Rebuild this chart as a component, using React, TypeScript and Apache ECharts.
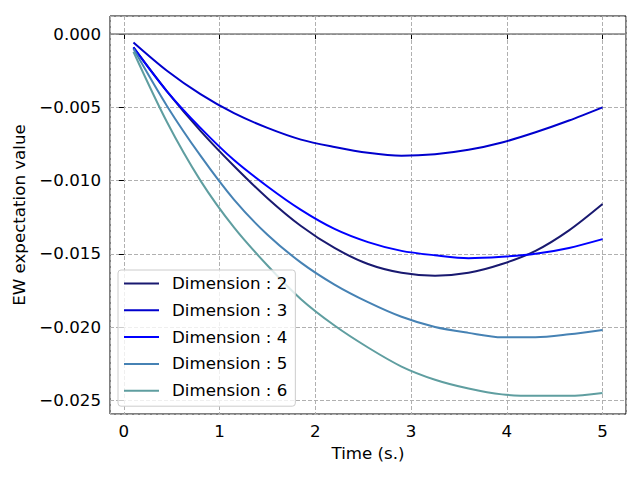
import React, { useEffect, useRef } from "react";
import * as echarts from "echarts";

const times = [0.1, 0.45, 0.8, 1.15, 1.5, 1.85, 2.2, 2.55, 2.9, 3.25, 3.6, 3.95, 4.3, 4.65, 5.0];

const dim2 = [-0.0009, -0.0039, -0.0066, -0.0090, -0.0112, -0.0131, -0.0146, -0.0157, -0.0163, -0.0165, -0.0163, -0.0157, -0.0148, -0.0134, -0.0116];
const dim3 = [-0.00057, -0.0025, -0.0041, -0.0054, -0.0064, -0.0072, -0.0077, -0.0081, -0.0083, -0.0082, -0.0079, -0.0074, -0.0067, -0.0059, -0.0050];
const dim4 = [-0.0009, -0.0039, -0.0064, -0.0086, -0.0104, -0.0120, -0.0133, -0.0142, -0.0148, -0.0151, -0.0153, -0.0152, -0.0150, -0.0146, -0.0140];
const dim5 = [-0.0010, -0.0049, -0.0083, -0.0113, -0.0137, -0.0156, -0.0171, -0.0183, -0.0193, -0.0200, -0.0204, -0.0207, -0.0207, -0.0205, -0.0202];
const dim6 = [-0.0012, -0.0060, -0.0100, -0.0132, -0.0158, -0.0181, -0.0199, -0.0214, -0.0227, -0.0236, -0.0242, -0.0246, -0.0247, -0.0247, -0.0245];

const seriesNames = ["Dimension : 2", "Dimension : 3", "Dimension : 4", "Dimension : 5", "Dimension : 6"];
const seriesValues = [dim2, dim3, dim4, dim5, dim6];
const seriesColors = ["#191970", "#0000CD", "#0000FF", "#4682B4", "#5F9EA0"];

const xTicks = [0, 1, 2, 3, 4, 5];
const zeroLine = 0;

const FONT = "DejaVu Sans";
const FS = 16.67;

export default function App() {
  const ref = useRef<HTMLDivElement>(null);
  useEffect(() => {
    document.body.style.margin = "0";
    const chart = echarts.init(ref.current!, undefined, { renderer: "svg" });
    const series: any[] = seriesValues.map((vals, i) => ({
      name: seriesNames[i],
      type: "line",
      data: times.map((t, j) => [t, vals[j]]),
      smooth: 0.3,
      showSymbol: false,
      symbol: "none",
      lineStyle: { color: seriesColors[i], width: 2 },
      itemStyle: { color: seriesColors[i] },
      z: 3,
    }));
    series.push({
      name: "zero",
      type: "line",
      data: [],
      markLine: {
        silent: true,
        symbol: "none",
        label: { show: false },
        lineStyle: { color: "#808080", width: 1.5, type: "solid" },
        data: [{ yAxis: zeroLine }],
      },
      z: 2,
    });
    chart.setOption({
      animation: false,
      textStyle: { fontFamily: FONT },
      grid: {
        left: 110,
        right: 14,
        top: 16,
        bottom: 66,
        show: true,
        borderColor: "#000",
        borderWidth: 1,
        backgroundColor: "transparent",
      },
      xAxis: {
        type: "value",
        min: -0.145,
        max: 5.245,
        name: "Time (s.)",
        nameLocation: "middle",
        nameGap: 31,
        nameTextStyle: { fontFamily: FONT, fontSize: FS, color: "#000" },
        axisLine: { show: false },
        axisTick: { show: true, length: 5, lineStyle: { color: "#000" } },
        axisLabel: {
          fontFamily: FONT,
          fontSize: FS,
          color: "#000",
          margin: 9,
          showMinLabel: false,
          showMaxLabel: false,
          formatter: (v: number) => {
            const r = Math.round(v);
            return xTicks.includes(r) && Math.abs(v - r) < 1e-6 ? String(r) : "";
          },
        },
        splitLine: { show: true, lineStyle: { color: "#b0b0b0", width: 1, type: [4, 2] } },
      },
      yAxis: {
        type: "value",
        min: -0.02594,
        max: 0.00124,
        name: "EW expectation value",
        nameLocation: "middle",
        nameGap: 80,
        nameRotate: 90,
        nameTextStyle: { fontFamily: FONT, fontSize: FS, color: "#000" },
        axisLine: { show: false },
        axisTick: { show: true, length: 5, lineStyle: { color: "#000" } },
        axisLabel: {
          fontFamily: FONT,
          fontSize: FS,
          color: "#000",
          margin: 9,
          showMinLabel: false,
          showMaxLabel: false,
          formatter: (v: number) => {
            const k = Math.round(v / 0.005);
            if (Math.abs(v - k * 0.005) > 1e-9) return "";
            if (k === 0) return "0.000";
            return (k < 0 ? "\u2212" : "") + Math.abs(k * 0.005).toFixed(3);
          },
        },
        splitLine: { show: true, lineStyle: { color: "#b0b0b0", width: 1, type: [4, 2] } },
      },
      legend: {
        data: seriesNames,
        orient: "vertical",
        left: 118,
        top: 270,
        padding: [5, 8, 7, 6],
        itemGap: 9.8,
        itemWidth: 35,
        itemHeight: 2,
        icon: "rect",
        borderColor: "#cccccc",
        borderWidth: 1,
        borderRadius: 3,
        backgroundColor: "rgba(255,255,255,0.8)",
        textStyle: {
          fontFamily: FONT,
          fontSize: FS,
          lineHeight: 16.67,
          color: "#000",
          padding: [0, 0, 0, 8],
        },
      },
      series,
    });
    return () => chart.dispose();
  }, []);
  return <div ref={ref} style={{ width: 640, height: 480 }} />;
}
